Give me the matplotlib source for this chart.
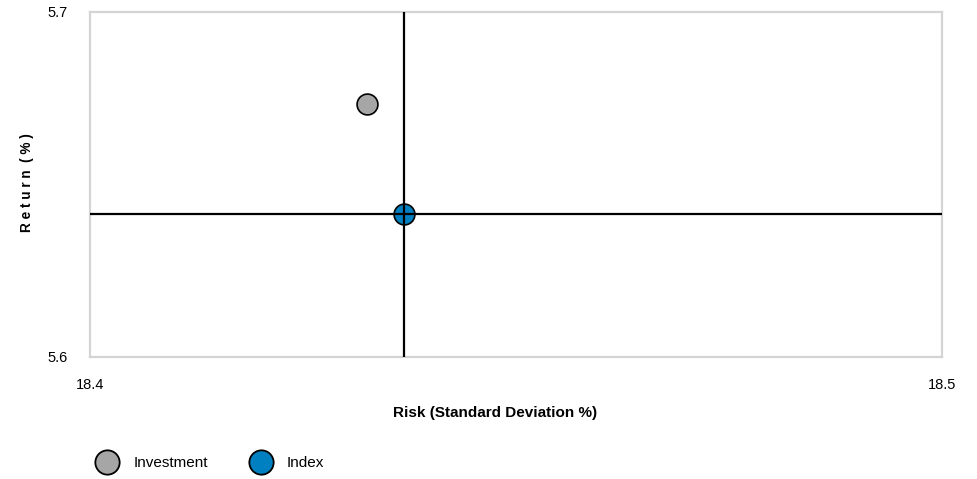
import numpy as np
import matplotlib.pyplot as plt
from matplotlib.lines import Line2D

plt.rcParams['font.family'] = ['Liberation Sans', 'DejaVu Sans']

# data
names = ['Investment', 'Index']
risk = [18.4325, 18.4368]
ret = [5.6732, 5.6413]
colors = ['#a6a6a6', '#0080c0']
x_ticks = [18.4, 18.5]
y_ticks = [5.6, 5.7]

fig = plt.figure(figsize=(9.77, 4.79), dpi=100)
ax = fig.add_axes([90/977, 1-356.7/479, 852/977, 345/479])

for n, x, y, c in zip(names, risk, ret, colors):
    ax.plot(x, y, 'o', ms=15, mfc=c, mec='black', mew=1.2, zorder=3, label=n)

# crosshair through the index
ax.axvline(risk[1], color='black', lw=1.6, zorder=4)
ax.axhline(ret[1], color='black', lw=1.6, zorder=4)

ax.set_xlim(x_ticks[0], x_ticks[-1])
ax.set_ylim(y_ticks[0], y_ticks[-1])
ax.set_xticks(x_ticks)
ax.set_yticks(y_ticks)
ax.set_xticklabels([f'{v:.1f}' for v in x_ticks])
ax.set_yticklabels([f'{v:.1f}' for v in y_ticks])
ax.tick_params(axis='x', length=0, pad=15, labelsize=10.5)
ax.tick_params(axis='y', length=0, pad=16, labelsize=10.5)

for s in ax.spines.values():
    s.set_color('#d4d4d4')
    s.set_linewidth(1.6)

fig.text(495/977, 1-413/479, 'Risk (Standard Deviation %)', ha='center', va='center',
         fontsize=11, fontweight='bold')
fig.text(27/977, 1-183/479, 'R e t u r n  ( % )', ha='center', va='center',
         rotation=90, fontsize=9.8, fontweight='bold')

handles = [Line2D([], [], ls='', marker='o', ms=17.5, mfc=c, mec='black', mew=1.3)
           for c in colors]
fig.legend(handles, names, loc='center left', bbox_to_anchor=(98/977, 1-463/479),
           ncol=2, frameon=False, fontsize=11, handletextpad=1.1, columnspacing=2.9,
           handlelength=1.2, borderpad=0, borderaxespad=0)

fig.savefig('out.png', dpi=100)
